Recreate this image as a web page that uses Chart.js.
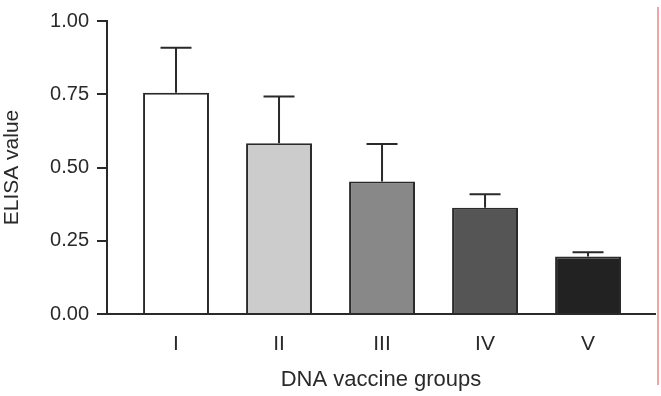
<!DOCTYPE html>
<html>
<head>
<meta charset="utf-8">
<script src="https://cdn.jsdelivr.net/npm/chart.js@4"></script>
<style>
html,body{margin:0;padding:0;background:#fff;}
#wrap{position:relative;width:661px;height:396px;}
#redline{position:absolute;left:657px;top:7px;width:2px;height:378px;background:#f0a4a4;}
</style>
</head>
<body>
<div id="wrap"><canvas id="c"></canvas><div id="redline"></div></div>
<script>
// Data
const categories = ['I', 'II', 'III', 'IV', 'V'];
const positions = [1, 2, 3, 4, 5];
const meanValues = [0.755, 0.583, 0.452, 0.363, 0.196];
const errorTops = [0.909, 0.742, 0.580, 0.409, 0.211];
const barColors = ['#ffffff', '#cccccc', '#888888', '#555555', '#222222'];
const yTickValues = [0, 0.25, 0.5, 0.75, 1.0];
const yTickLabels = ['0.00', '0.25', '0.50', '0.75', '1.00'];

const FONT = "'Liberation Sans', Arial, Helvetica, sans-serif";
const INK = '#2a2a2a';

const errorBarPlugin = {
  id: 'errorBars',
  afterDatasetsDraw(chart) {
    const meta = chart.getDatasetMeta(0);
    const ys = chart.scales.y;
    const ctx = chart.ctx;
    ctx.save();
    ctx.strokeStyle = INK;
    ctx.lineWidth = 2;
    meta.data.forEach((bar, i) => {
      const x = bar.x;
      const yTop = ys.getPixelForValue(errorTops[i]);
      const yBar = bar.y;
      const half = 15.5;
      ctx.beginPath();
      ctx.moveTo(x, yBar);
      ctx.lineTo(x, yTop);
      ctx.moveTo(x - half, yTop);
      ctx.lineTo(x + half, yTop);
      ctx.stroke();
    });
    ctx.restore();
  }
};

new Chart(document.getElementById('c'), {
  type: 'bar',
  data: {
    datasets: [{
      data: positions.map((p, i) => ({ x: p, y: meanValues[i] })),
      backgroundColor: barColors,
      borderColor: INK,
      borderWidth: 2,
      barPercentage: 0.8,
      categoryPercentage: 0.8
    }]
  },
  options: {
    responsive: true,
    maintainAspectRatio: false,
    animation: false,
    events: [],
    layout: { padding: { top: 21, right: 6, left: 0, bottom: 3 } },
    plugins: { legend: { display: false }, tooltip: { enabled: false } },
    scales: {
      x: {
        type: 'linear',
        offset: false,
        min: 0.33,
        max: 5.65,
        afterBuildTicks(scale) {
          scale.ticks = positions.map(v => ({ value: v }));
        },
        afterFit(scale) { scale.height = 79; },
        grid: { display: false },
        border: { display: true, color: INK, width: 2 },
        ticks: {
          color: INK,
          font: { family: FONT, size: 21 },
          padding: 10,
          autoSkip: false,
          maxRotation: 0,
          callback(v) {
            const idx = positions.indexOf(v);
            return idx >= 0 ? categories[idx] : '';
          }
        },
        title: {
          display: true,
          text: 'DNA vaccine groups',
          color: INK,
          font: { family: FONT, size: 22 },
          padding: { top: 0, bottom: 0 }
        }
      },
      y: {
        min: 0,
        max: 1,
        afterBuildTicks(scale) {
          scale.ticks = yTickValues.map(v => ({ value: v }));
        },
        afterFit(scale) { scale.width = 107; },
        grid: { drawOnChartArea: false, drawTicks: true, tickLength: 10, color: INK, lineWidth: 2 },
        border: { display: true, color: INK, width: 2 },
        ticks: {
          color: INK,
          font: { family: FONT, size: 20 },
          padding: 8,
          callback(v) {
            const idx = yTickValues.indexOf(v);
            return idx >= 0 ? yTickLabels[idx] : '';
          }
        },
        title: {
          display: true,
          text: 'ELISA value',
          color: INK,
          font: { family: FONT, size: 21 },
          padding: { top: 0, bottom: 0 }
        }
      }
    }
  },
  plugins: [errorBarPlugin]
});
</script>
</body>
</html>
